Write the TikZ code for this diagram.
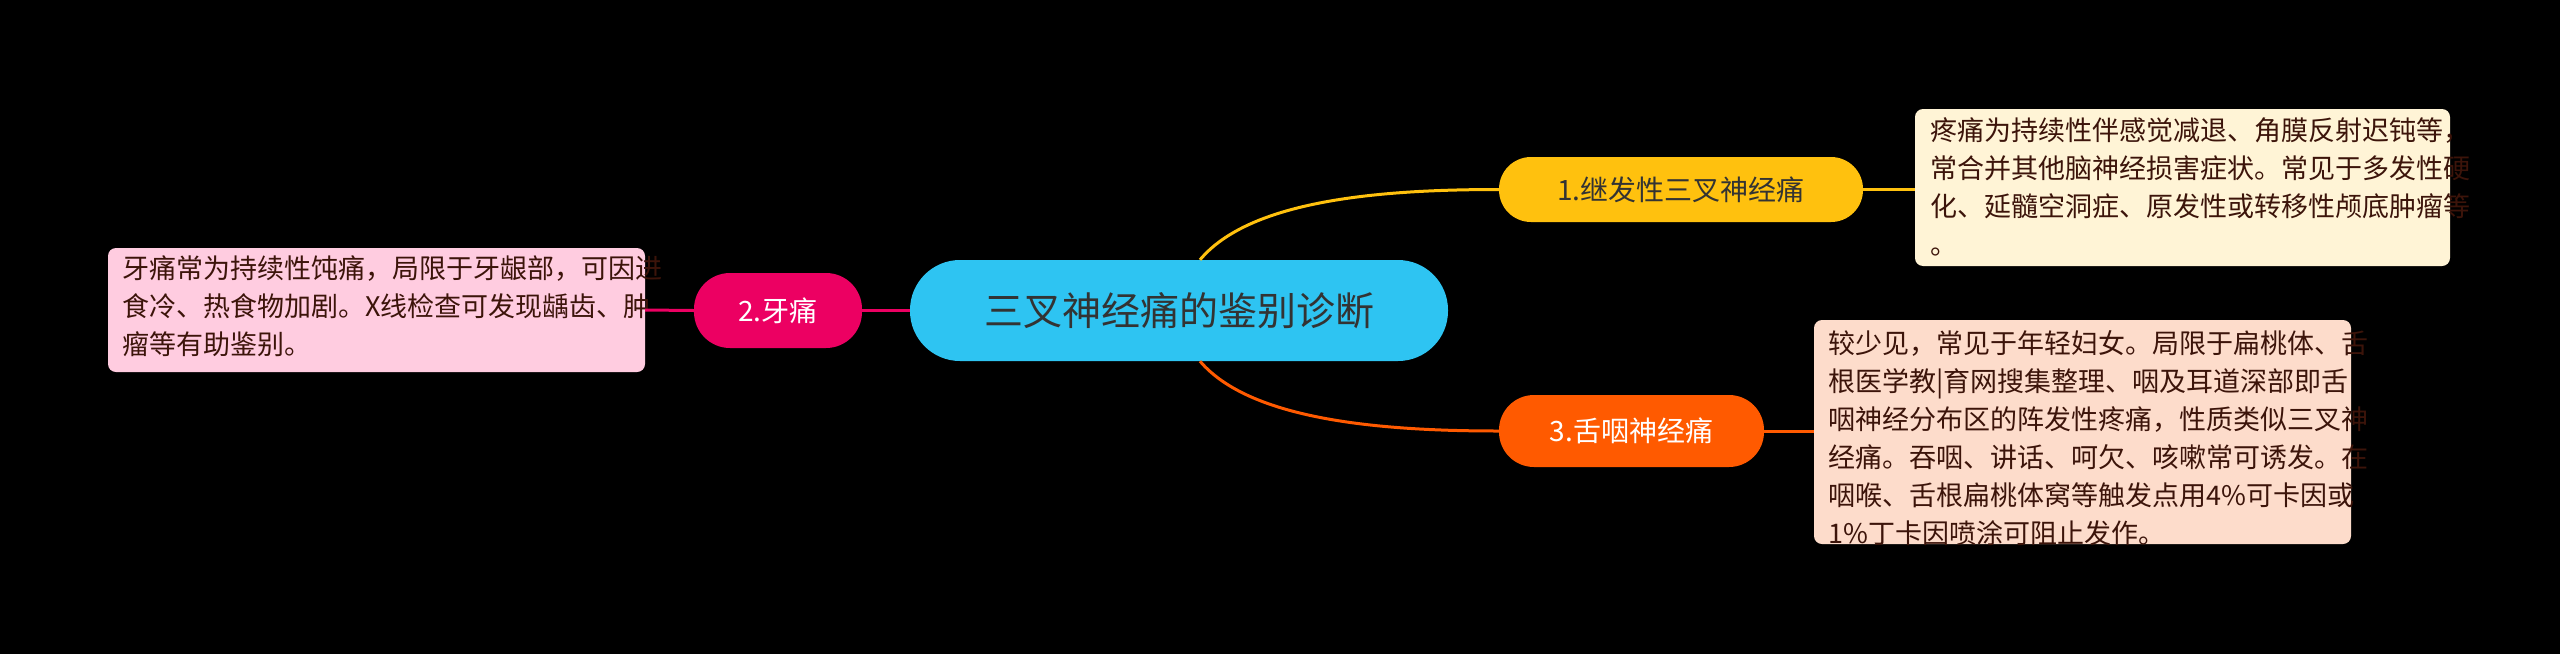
\documentclass[tikz,border=0pt]{standalone}
\usepackage{fontspec}
\setmainfont{Noto Sans CJK SC}
\definecolor{ccyan}{RGB}{46,196,242}
\definecolor{cyel}{RGB}{255,193,14}
\definecolor{cyelbg}{RGB}{255,244,214}
\definecolor{cpink}{RGB}{236,0,98}
\definecolor{cpinkbg}{RGB}{255,204,224}
\definecolor{corg}{RGB}{255,90,0}
\definecolor{corgbg}{RGB}{253,220,203}
\definecolor{ctext}{RGB}{60,20,10}
\begin{document}
\begin{tikzpicture}[x=1pt,y=-1pt,
  box/.style={inner sep=0pt,minimum width=#1},
  dtext/.style={font=\fontsize{27}{38}\selectfont,align=left,anchor=north west,inner sep=0pt,text=ctext},
  link/.style={line width=3pt}]
\fill[black] (0,0) rectangle (2560,654);
\useasboundingbox (0,0) rectangle (2560,654);
% center
\node[fill=ccyan,rounded corners=50pt,minimum width=538pt,minimum height=101pt,inner sep=0pt,text=black!80] (c) at (1179,310.5) {\fontsize{39}{44}\selectfont 三叉神经痛的鉴别诊断};
% node1
\node[fill=cyel,rounded corners=32pt,minimum width=364pt,minimum height=65pt,inner sep=0pt,text=black!80] (n1) at (1681,189.5) {\fontsize{28}{34}\selectfont 1.继发性三叉神经痛};
% detail1
\node[fill=cyelbg,rounded corners=8pt,minimum width=535pt,minimum height=157pt,inner sep=0pt] (d1) at (2182.5,187.5) {};
\node[dtext] (t1) at (1930,117) {疼痛为持续性伴感觉减退、角膜反射迟钝等，\\常合并其他脑神经损害症状。常见于多发性硬\\化、延髓空洞症、原发性或转移性颅底肿瘤等\\。};
% node2
\node[fill=cpink,rounded corners=36pt,minimum width=168pt,minimum height=75pt,inner sep=0pt,text=white] (n2) at (778,310.5) {\fontsize{28}{34}\selectfont 2.牙痛};
% detail2
\node[fill=cpinkbg,rounded corners=8pt,minimum width=537pt,minimum height=124pt,inner sep=0pt] (d2) at (376.5,310) {};
\node[dtext] (t2) at (122,255) {牙痛常为持续性饨痛，局限于牙龈部，可因进\\食冷、热食物加剧。X线检查可发现龋齿、肿\\瘤等有助鉴别。};
% node3
\node[fill=corg,rounded corners=35pt,minimum width=265pt,minimum height=72pt,inner sep=0pt,text=white] (n3) at (1631.5,431) {\fontsize{28}{34}\selectfont 3.舌咽神经痛};
% detail3
\node[fill=corgbg,rounded corners=8pt,minimum width=537pt,minimum height=224pt,inner sep=0pt] (d3) at (2082.5,432) {};
\node[dtext] (t3) at (1828,330) {较少见，常见于年轻妇女。局限于扁桃体、舌\\根医学教|育网搜集整理、咽及耳道深部即舌\\咽神经分布区的阵发性疼痛，性质类似三叉神\\经痛。吞咽、讲话、呵欠、咳嗽常可诱发。在\\咽喉、舌根扁桃体窝等触发点用4\%可卡因或\\1\%丁卡因喷涂可阻止发作。};
% connectors
\begin{scope}[on background layer/.try]
\end{scope}
\draw[link,cyel] ([xshift=21pt]c.north) .. controls (1250,200) and (1380,189.5) .. (n1.west);
\draw[link,cyel] (n1.east) -- (d1.west |- n1.east);
\draw[link,corg] ([xshift=21pt]c.south) .. controls (1250,420) and (1380,431) .. (n3.west);
\draw[link,corg] (n3.east) -- (d3.west |- n3.east);
\draw[link,cpink] (c.west) -- (n2.east);
\draw[link,cpink] (n2.west) -- (d2.east);
\end{tikzpicture}
\end{document}
